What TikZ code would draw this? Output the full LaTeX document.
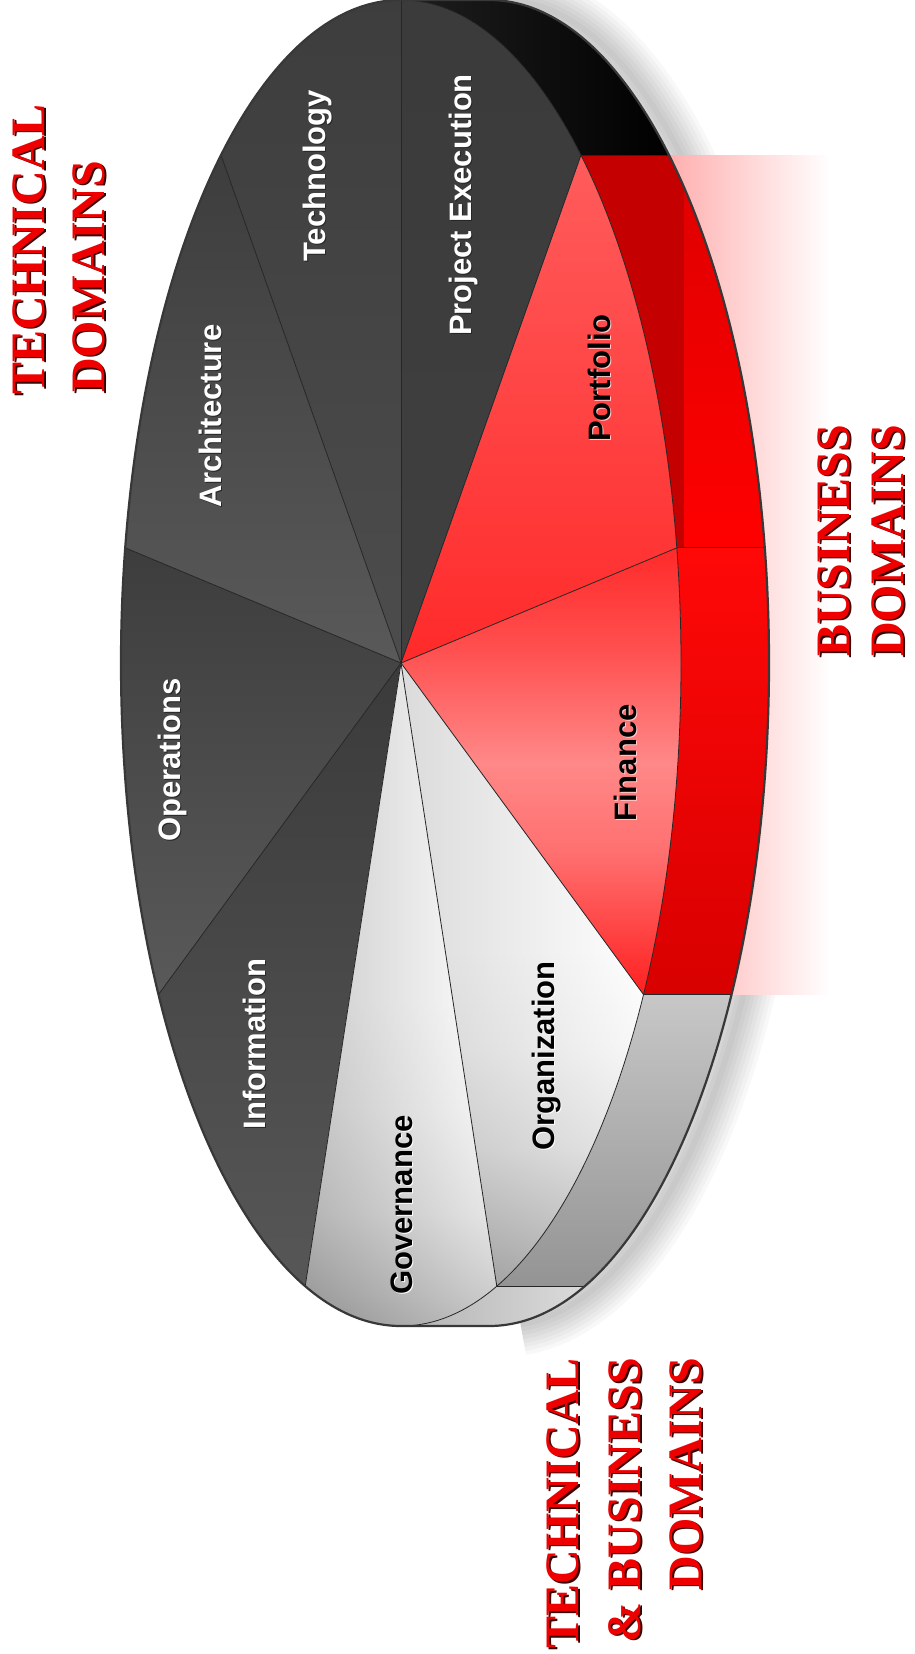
\documentclass[tikz,border=0pt]{standalone}
\usepackage{fontspec}
\setmainfont{Liberation Serif}
\newfontfamily\sansfam{Liberation Sans}
\usetikzlibrary{calc}
\definecolor{titlered}{HTML}{EE0000}
\definecolor{titleshadow}{HTML}{3A0000}
\definecolor{glowpink}{RGB}{255,170,170}
\definecolor{glowmid}{RGB}{255,165,165}
\definecolor{darkside}{HTML}{C40000}
\definecolor{finA}{RGB}{255,32,32}
\definecolor{finB}{RGB}{255,112,112}
\definecolor{finC}{RGB}{255,136,136}
\definecolor{finD}{RGB}{255,80,80}
\definecolor{finE}{RGB}{255,42,42}
\pgfdeclareverticalshading{govshade}{100bp}{color(0bp)=(black!42); color(25bp)=(black!42); color(28.5bp)=(black!31); color(34.5bp)=(black!15); color(42bp)=(black!5); color(50bp)=(white); color(100bp)=(white)}
\pgfdeclareverticalshading{orgshade}{100bp}{color(0bp)=(black!42); color(25bp)=(black!42); color(29.5bp)=(black!30); color(36bp)=(black!14); color(44bp)=(black!4); color(52bp)=(white); color(100bp)=(white)}
\pgfdeclareverticalshading{finshade}{100bp}{color(0bp)=(finA); color(25bp)=(finA); color(41bp)=(finB); color(51bp)=(finC); color(63.5bp)=(finD); color(75bp)=(finE); color(100bp)=(finE)}
\tikzset{el/.style={x radius=280pt,y radius=663pt}}
\newcommand\topslice[3]{%
  \path[#3] (C) -- ($(C)+(#1:280pt and 663pt)$) arc[start angle=#1,end angle=#2,el] -- cycle;}
\newcommand\sideseg[3]{%
  \path[#3] ($(C)+(#1:280pt and 663pt)$) arc[start angle=#1,end angle=#2,el] -- ++(88pt,0) arc[start angle=#2,end angle=#1,el] -- cycle;}
\newcommand\slicelabel[6]{%
  \node[lbl, text=#6] (#1s) at ({#2+1.6},{#3-1}) {#4};
  \node[lbl, text=#5] (#1) at (#2,#3) {#4};}
\newcommand\titletext[5]{%
  \node[ttl, anchor=#4, text=titleshadow] (#1s) at ({#2+2.5},{#3-1.2}) {#5};
  \node[ttl, anchor=#4, text=titlered] (#1) at (#2,#3) {#5};}
\begin{document}
\begin{tikzpicture}[x=1pt,y=1pt,
  sepline/.style={draw=black!85, line width=0.8pt},
  outline/.style={draw=black!78, line width=2.2pt, line join=round},
  lbl/.style={rotate=90, anchor=base, inner sep=0pt, font=\sansfam\bfseries\fontsize{31}{36}\selectfont},
  ttl/.style={rotate=90, inner sep=0pt, font=\bfseries\fontsize{48}{58}\selectfont}]
\useasboundingbox (0,0) rectangle (914,-1654);
\fill[white] (0,0) rectangle (914,-1654);
\coordinate (C) at (401,-663);
% soft shadow
\foreach \w in {6,14,...,62}{
  \draw[line width=\w pt, black, opacity=0.026] ($(C)+(100pt,0)+(90:280pt and 663pt)$) arc[start angle=90,end angle=-86,el];}
% pink glow
\shade[left color=glowpink, middle color=glowmid, right color=white] (660,-155) rectangle (830,-994);
% sides
\sideseg{50}{90}{left color=black!88, right color=black}
\sideseg{10}{50}{fill=darkside}
\begin{scope}
  \sideseg{10}{50}{clip}
  \shade[top color={rgb,255:red,221;green,0;blue,0}, bottom color={rgb,255:red,255;green,0;blue,0}] (684,-150) rectangle (800,-550);
\end{scope}
\sideseg{-30}{10}{top color={rgb,255:red,255;green,8;blue,8}, bottom color={rgb,255:red,216;green,0;blue,0}}
\sideseg{-70}{-30}{top color=black!22, bottom color=black!42}
\sideseg{-90}{-70}{left color=black!30, right color=black!14}
% top faces
\topslice{90}{130}{top color=black!76, bottom color=black!70}
\topslice{130}{170}{top color=black!76, bottom color=black!65}
\topslice{170}{210}{top color=black!76, bottom color=black!65}
\topslice{210}{250}{top color=black!77, bottom color=black!66}
\topslice{250}{290}{shade, shading=govshade}
\topslice{250}{290}{left color=black!50, right color=white, fill opacity=0.4}
\topslice{290}{330}{shade, shading=orgshade}
\topslice{290}{330}{left color=black!40, right color=white, fill opacity=0.35}
\topslice{330}{370}{shade, shading=finshade}
\topslice{10}{50}{top color={rgb,255:red,255;green,92;blue,92}, middle color={rgb,255:red,255;green,124;blue,124}, bottom color={rgb,255:red,255;green,42;blue,42}}
\topslice{50}{90}{top color=black!77, bottom color=black!75}
% separators
\foreach \t in {90,130,170,210,250,290,330,10,50}{
  \draw[sepline] (C) -- ($(C)+(\t:280pt and 663pt)$);}
\foreach \t in {50,10,-30,-70}{
  \draw[sepline] ($(C)+(\t:280pt and 663pt)$) -- ++(88pt,0);}
\draw[sepline] ($(C)+(90:280pt and 663pt)$) arc[start angle=90,end angle=-90,el];
\draw[outline] ($(C)+(90:280pt and 663pt)$) arc[start angle=90,end angle=270,el] -- ++(88pt,0) arc[start angle=-90,end angle=90,el] -- cycle;
% slice labels
\slicelabel{tech}{325}{-176}{Technology}{white}{black!85}
\slicelabel{pe}{471}{-205}{Project Execution}{white}{black!85}
\slicelabel{arch}{221}{-416}{Architecture}{white}{black!85}
\slicelabel{port}{610}{-378}{Portfolio}{black}{white!80!red}
\slicelabel{ops}{180}{-760}{Operations}{white}{black!85}
\slicelabel{fin}{636}{-763}{Finance}{black}{white!80!red}
\slicelabel{info}{265}{-1044}{Information}{white}{black!85}
\slicelabel{org}{554}{-1056}{Organization}{black}{white}
\slicelabel{gov}{412}{-1205}{Governance}{black}{white}
% titles
\titletext{ta}{44}{-395}{base west}{TECHNICAL}
\titletext{tb}{104}{-393}{base west}{DOMAINS}
\titletext{ba}{849}{-657}{base west}{BUSINESS}
\titletext{bb}{903}{-657}{base west}{DOMAINS}
\titletext{ca}{578}{-1358}{base east}{TECHNICAL}
\titletext{cb}{640}{-1358}{base east}{\& BUSINESS}
\titletext{cc}{701}{-1358}{base east}{DOMAINS}
\end{tikzpicture}
\end{document}
